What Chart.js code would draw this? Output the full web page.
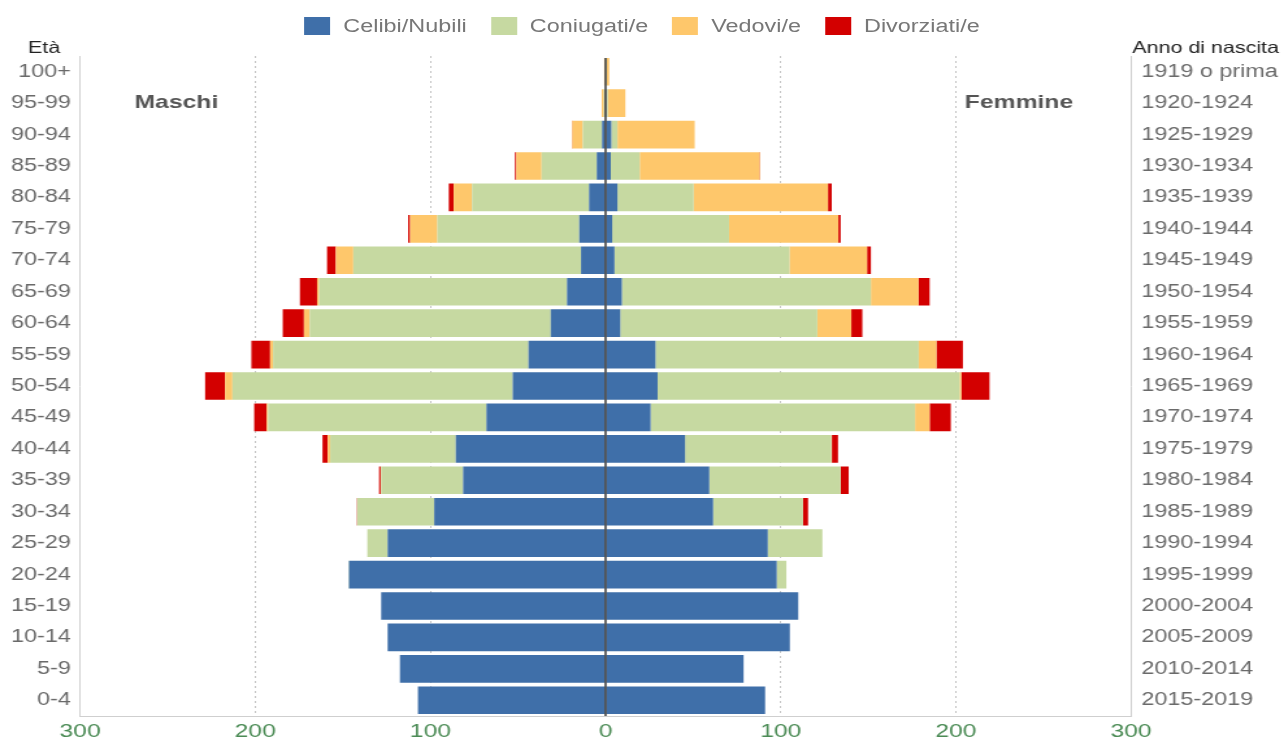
<!DOCTYPE html>
<html lang="it">
<head>
    <meta charset="UTF-8">
    <title>Popolazione per età, sesso e stato civile</title>
    <script src="https://cdn.jsdelivr.net/npm/chart.js"></script>
    <style>
        body {
            margin: 0;
            background: #fff;
            overflow: hidden;
            font-family: 'Liberation Sans', Arial, sans-serif;
        }
        /* the original picture is stretched sideways, so the whole chart is drawn narrower and scaled */
        #wrap {
            position: absolute;
            left: 0;
            top: 0;
            width: 988px;
            height: 742px;
            transform: scaleX(1.2996);
            transform-origin: 0 0;
        }
        .chart-box {
            position: absolute;
            inset: 0;
        }
        .legend-container {
            position: absolute;
            top: 17px;
            left: 0;
            width: 100%;
            display: flex;
            justify-content: center;
            gap: 18.5px;
        }
        .legend-item {
            display: flex;
            align-items: center;
            font-size: 18px;
            line-height: 18px;
            color: #777;
        }
        .legend-box {
            width: 20px;
            height: 18px;
            margin-right: 10px;
        }
    </style>
</head>
<body>
    <div id="wrap">
        <div class="chart-box"><canvas id="pyramid"></canvas></div>
        <div class="legend-container" id="legend"></div>
    </div>

    <script>
        const ageGroups = ['100+', '95-99', '90-94', '85-89', '80-84', '75-79', '70-74', '65-69', '60-64', '55-59',
            '50-54', '45-49', '40-44', '35-39', '30-34', '25-29', '20-24', '15-19', '10-14', '5-9', '0-4'];
        const birthYears = ['1919 o prima', '1920-1924', '1925-1929', '1930-1934', '1935-1939', '1940-1944', '1945-1949',
            '1950-1954', '1955-1959', '1960-1964', '1965-1969', '1970-1974', '1975-1979', '1980-1984', '1985-1989',
            '1990-1994', '1995-1999', '2000-2004', '2005-2009', '2010-2014', '2015-2019'];
        const seriesNames = ['Celibi/Nubili', 'Coniugati/e', 'Vedovi/e', 'Divorziati/e'];
        const seriesColors = ['#3f6fa9', '#c6d9a1', '#fec76b', '#d30000'];

        // Maschi
        const maleCelibi = [0, 0.2, 2, 5, 9.4, 15, 14, 22, 31.3, 44, 53, 68, 85.5, 81.3, 97.8, 124.4, 146.5, 128.1, 124.4, 117.4, 107.1];
        const maleConiugati = [0.3, 0.8, 11, 31.5, 66.8, 81, 130, 141.5, 137.6, 145.8, 160, 124.6, 71.7, 46.8, 44, 11.6, 0.3, 0, 0, 0, 0];
        const maleVedovi = [0.5, 1.2, 6, 14.5, 10.5, 15.6, 10, 1.2, 3.3, 1.7, 4.2, 0.8, 1.4, 0.3, 0, 0, 0, 0, 0, 0, 0];
        const maleDivorziati = [0, 0, 0.2, 0.7, 2.8, 1.1, 5, 9.8, 12.1, 10.7, 11.4, 7.2, 3, 0.9, 0.2, 0, 0, 0, 0, 0, 0];

        // Femmine
        const femaleNubili = [0.3, 0.5, 3.3, 3, 6.8, 3.8, 5.1, 9.3, 8.4, 28.5, 29.7, 25.7, 45.4, 59.2, 61.4, 92.6, 97.7, 110, 105.2, 78.8, 91.1];
        const femaleConiugate = [0.3, 0.8, 3.5, 16.5, 43.5, 66.7, 99.9, 142.2, 112.5, 150.3, 172.4, 151, 83.5, 75, 51.3, 31.2, 5.5, 0, 0, 0, 0];
        const femaleVedove = [1.5, 10, 44.1, 68.5, 76.7, 62.4, 44.3, 27.2, 19.4, 10.1, 1, 8.3, 0.3, 0, 0, 0, 0, 0, 0, 0, 0];
        const femaleDivorziate = [0, 0, 0, 0.3, 2.1, 1.3, 2.2, 6.3, 6.3, 15.1, 16.1, 12.1, 3.5, 4.6, 2.9, 0, 0, 0, 0, 0, 0];

        const maleSeries = [maleCelibi, maleConiugati, maleVedovi, maleDivorziati];
        const femaleSeries = [femaleNubili, femaleConiugate, femaleVedove, femaleDivorziate];

        Chart.defaults.font.family = "'Liberation Sans', Arial, sans-serif";

        const datasets = [];
        maleSeries.forEach((values, i) => {
            datasets.push({
                label: seriesNames[i] + ' (M)',
                data: values.map(v => -v),
                backgroundColor: seriesColors[i],
                stack: 'pop',
                barPercentage: 0.88,
                categoryPercentage: 1
            });
        });
        femaleSeries.forEach((values, i) => {
            datasets.push({
                label: seriesNames[i] + ' (F)',
                data: values,
                backgroundColor: seriesColors[i],
                stack: 'pop',
                barPercentage: 0.88,
                categoryPercentage: 1
            });
        });

        // zero line and the free texts around the chart
        const pyramidText = {
            id: 'pyramidText',
            afterDatasetsDraw(chart) {
                const { ctx, chartArea, scales: { x, y } } = chart;
                const x0 = x.getPixelForValue(0);
                ctx.save();
                ctx.strokeStyle = '#3a3a3a';
                ctx.lineWidth = 1.5;
                ctx.beginPath();
                ctx.moveTo(x0, chartArea.top + 2);
                ctx.lineTo(x0, chartArea.bottom);
                ctx.stroke();

                ctx.textBaseline = 'middle';
                ctx.textAlign = 'center';
                ctx.fillStyle = '#555';
                ctx.font = "bold 19px 'Liberation Sans', Arial, sans-serif";
                ctx.fillText('Maschi', x.getPixelForValue(-245), y.getPixelForValue(1));
                ctx.fillText('Femmine', x.getPixelForValue(236), y.getPixelForValue(1));

                ctx.fillStyle = '#222';
                ctx.font = "16.5px 'Liberation Sans', Arial, sans-serif";
                ctx.fillText('Età', 34, 48);
                ctx.textAlign = 'left';
                ctx.fillText('Anno di nascita', chartArea.right + 1, 48);
                ctx.restore();
            }
        };

        const ctx = document.getElementById('pyramid').getContext('2d');
        new Chart(ctx, {
            type: 'bar',
            data: { labels: ageGroups, datasets: datasets },
            options: {
                indexAxis: 'y',
                responsive: true,
                maintainAspectRatio: false,
                animation: false,
                layout: { padding: { top: 56, left: 0, right: 0, bottom: 0 } },
                plugins: {
                    legend: { display: false },
                    tooltip: {
                        callbacks: {
                            label: item => item.dataset.label + ': ' + Math.abs(item.raw)
                        }
                    }
                },
                scales: {
                    x: {
                        stacked: true,
                        min: -300,
                        max: 300,
                        ticks: {
                            stepSize: 100,
                            callback: v => Math.abs(v),
                            color: '#4b8b55',
                            font: { size: 19 },
                            padding: 4,
                            maxRotation: 0
                        },
                        grid: {
                            drawTicks: false,
                            color: c => {
                                const v = c.tick ? Math.abs(c.tick.value) : 0;
                                return (v === 100 || v === 200) ? '#c4c4c4' : 'rgba(0,0,0,0)';
                            }
                        },
                        border: { color: '#cfcfcf', dash: [2, 3] },
                        afterFit: s => { s.height = 26; }
                    },
                    y: {
                        stacked: true,
                        ticks: { color: '#6a6a6a', font: { size: 18 }, padding: 7 },
                        grid: { display: false, drawTicks: false },
                        border: { color: '#cfcfcf' },
                        afterFit: s => { s.width = 61.6; }
                    },
                    y2: {
                        type: 'category',
                        labels: birthYears,
                        position: 'right',
                        offset: true,
                        ticks: { color: '#6a6a6a', font: { size: 18 }, padding: 8 },
                        grid: { display: false, drawTicks: false },
                        border: { color: '#cfcfcf' },
                        afterFit: s => { s.width = 117.7; }
                    }
                }
            },
            plugins: [pyramidText]
        });

        // legend
        const legendContainer = document.getElementById('legend');
        seriesNames.forEach((name, i) => {
            const item = document.createElement('div');
            item.classList.add('legend-item');
            const box = document.createElement('span');
            box.classList.add('legend-box');
            box.style.background = seriesColors[i];
            item.appendChild(box);
            item.appendChild(document.createTextNode(name));
            legendContainer.appendChild(item);
        });
    </script>
</body>
</html>
